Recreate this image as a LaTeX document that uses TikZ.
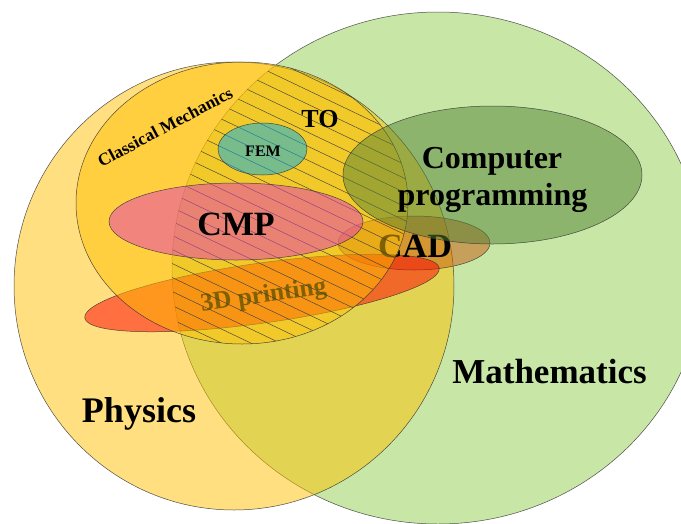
\documentclass[tikz,border=0pt]{standalone}
\usepackage{fontspec}
\setmainfont{Liberation Serif}
\newcommand\myfs[1]{\fontsize{#1}{#1}\selectfont}
\definecolor{mathc}{HTML}{92D050}
\definecolor{physc}{HTML}{FFC000}
\definecolor{cadc}{HTML}{C55A11}
\definecolor{printc}{HTML}{FF0000}
\definecolor{cmpc}{HTML}{E43CBE}
\definecolor{femc}{HTML}{00B0F0}
\definecolor{progc}{HTML}{548235}
\begin{document}
\begin{tikzpicture}[x=1pt,y=-1pt,
  blob/.style={draw=black!80, line width=0.5pt, fill opacity=0.5, draw opacity=0.85},
  hatchline/.style={draw=black!75, line width=0.45pt},
  lbl/.style={inner sep=0pt, anchor=base, text=black}]
\useasboundingbox (0,0) rectangle (681,523);
\fill[white] (0,0) rectangle (681,523);
\clip (0,0) rectangle (681,523);
% Mathematics and Physics
\filldraw[blob, fill=mathc] (438,268) ellipse [x radius=266, y radius=256];
\filldraw[blob, fill=physc] (234,286) ellipse [x radius=220, y radius=224];
% CAD and 3D printing
\filldraw[blob, fill=cadc] (414,243) ellipse [x radius=76, y radius=27];
\filldraw[blob, fill=printc, rotate around={8:(262,293)}] (262,293) ellipse [x radius=179, y radius=30];
\node[lbl, font=\bfseries\myfs{34}] (cad) at (415,257) {CAD};
\node[lbl, font=\bfseries\myfs{25.5}, rotate=8.5] (print) at (264.5,302.5) {3D printing};
% Classical Mechanics
\filldraw[blob, fill=physc] (242,203) ellipse [x radius=166, y radius=141];
% TO hatching = Classical Mechanics cap Mathematics
\begin{scope}
\clip (242,203) ellipse [x radius=166, y radius=141];
\clip (438,268) ellipse [x radius=266, y radius=256];
\foreach \k in {-10,...,24} \draw[hatchline] (60,\k*14) -- (480,\k*14+200.4);
\end{scope}
% CMP, FEM, Computer programming
\filldraw[blob, fill=cmpc] (236,221.5) ellipse [x radius=127, y radius=38.5];
\filldraw[blob, fill=femc] (262.5,149) ellipse [x radius=44.5, y radius=26];
\filldraw[blob, fill=progc] (492.5,175) ellipse [x radius=149.5, y radius=69];
% labels
\node[lbl, font=\bfseries\myfs{17.5}, rotate=28, anchor=center] (cm) at (165,127) {Classical Mechanics};
\node[lbl, font=\bfseries\myfs{26}] (to) at (320,127) {TO};
\node[lbl, font=\bfseries\myfs{16}] (fem) at (263,156) {FEM};
\node[lbl, font=\bfseries\myfs{34}] (cmp) at (236,235) {CMP};
\node[lbl, font=\bfseries\myfs{32}] (prog1) at (492,168) {Computer};
\node[lbl, font=\bfseries\myfs{32}] (prog2) at (492.5,205) {programming};
\node[lbl, font=\bfseries\myfs{36}] (phys) at (139,422) {Physics};
\node[lbl, font=\bfseries\myfs{35}] (math) at (549.5,383) {Mathematics};
\end{tikzpicture}
\end{document}
